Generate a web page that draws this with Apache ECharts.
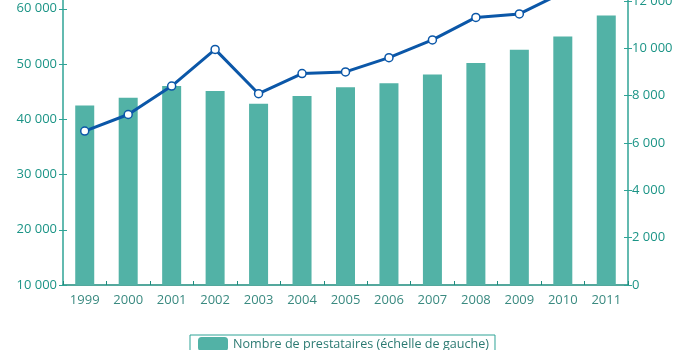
<!DOCTYPE html>
<html>
<head>
<meta charset="utf-8">
<script src="https://cdn.jsdelivr.net/npm/echarts@6/dist/echarts.min.js"></script>
<style>
  html, body { margin: 0; padding: 0; background: #fff; overflow: hidden; }
  /* the plot extends above the visible window; its top part is clipped */
  #chart { width: 687px; height: 403px; margin-top: -53px; }
</style>
</head>
<body>
<div id="chart"></div>
<script>
// Years on the horizontal axis
const years = ['1999', '2000', '2001', '2002', '2003', '2004', '2005', '2006', '2007', '2008', '2009', '2010', '2011'];
// Number of recipients (left scale)
const prestataires = [42500, 43900, 46000, 45100, 42800, 44200, 45800, 46500, 48100, 50200, 52600, 55000, 58800];
// Second series (right scale)
const droite = [6500, 7200, 8400, 9950, 8080, 8930, 9000, 9600, 10350, 11300, 11450, 12350, 12900];

const teal = '#52b2a6';
const axisTeal = '#2fa396';
const labelTeal = '#1b9486';
const blue = '#0b57a8';
const font = '"Open Sans", "Noto Sans", sans-serif';

const fmt = v => String(v).replace(/\B(?=(\d{3})+(?!\d))/g, ' ');

const chart = echarts.init(document.getElementById('chart'), null, { renderer: 'canvas' });

chart.setOption({
  animation: false,
  textStyle: { fontFamily: font },
  grid: { left: 63, right: 59, top: 0, bottom: 65, containLabel: false },
  legend: {
    data: ['Nombre de prestataires (échelle de gauche)'],
    left: 190,
    top: 388,
    orient: 'vertical',
    borderColor: axisTeal,
    borderWidth: 1,
    borderRadius: 0,
    padding: [2, 6, 6, 8],
    itemWidth: 30,
    itemHeight: 14,
    itemGap: 6,
    textStyle: { fontFamily: font, fontSize: 12.6, color: '#2c7a72' }
  },
  xAxis: {
    type: 'category',
    data: years,
    boundaryGap: true,
    axisLine: { lineStyle: { color: '#1d8c7e', width: 1.5 } },
    axisTick: { show: true, inside: true, length: 4, lineStyle: { color: '#1d8c7e' } },
    axisLabel: { color: '#3a8a80', fontSize: 13, margin: 9, fontFamily: font }
  },
  yAxis: [
    {
      type: 'value', position: 'left',
      min: 10000, max: 70000, interval: 10000,
      splitLine: { show: false },
      axisLine: { show: true, lineStyle: { color: axisTeal, width: 1.5 } },
      axisTick: { show: true, length: 4, lineStyle: { color: axisTeal } },
      axisLabel: { color: labelTeal, fontSize: 13, margin: 6, formatter: fmt, fontFamily: font }
    },
    {
      type: 'value', position: 'right',
      min: 0, max: 14000, interval: 2000,
      splitLine: { show: false },
      axisLine: { show: true, lineStyle: { color: axisTeal, width: 1.5 } },
      axisTick: { show: true, length: 4, lineStyle: { color: axisTeal } },
      axisLabel: { color: labelTeal, fontSize: 13, margin: 4, formatter: fmt, fontFamily: font }
    },
    {
      // inner half of the crossing ticks on the left scale
      type: 'value', position: 'left',
      min: 10000, max: 70000, interval: 10000,
      splitLine: { show: false },
      axisLine: { show: false },
      axisTick: { show: true, inside: true, length: 4, lineStyle: { color: axisTeal } },
      axisLabel: { show: false }
    },
    {
      // inner half of the crossing ticks on the right scale
      type: 'value', position: 'right',
      min: 0, max: 14000, interval: 2000,
      splitLine: { show: false },
      axisLine: { show: false },
      axisTick: { show: true, inside: true, length: 4, lineStyle: { color: axisTeal } },
      axisLabel: { show: false }
    }
  ],
  series: [
    {
      name: 'Nombre de prestataires (échelle de gauche)',
      type: 'bar',
      yAxisIndex: 0,
      data: prestataires,
      barWidth: 19,
      itemStyle: { color: teal },
      z: 2
    },
    {
      name: 'Échelle de droite',
      type: 'line',
      yAxisIndex: 1,
      data: droite,
      symbol: 'circle',
      symbolSize: 8,
      lineStyle: { color: blue, width: 3 },
      itemStyle: { color: '#ffffff', borderColor: blue, borderWidth: 1.5 },
      z: 5
    }
  ]
});
</script>
</body>
</html>
